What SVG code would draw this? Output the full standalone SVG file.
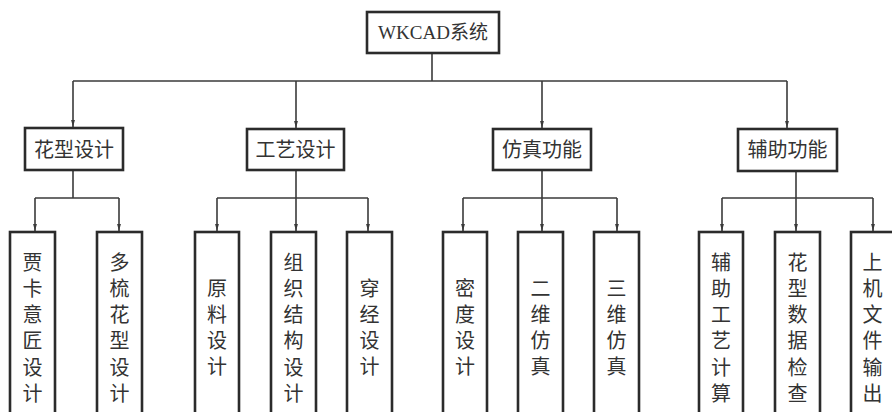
<svg xmlns="http://www.w3.org/2000/svg" width="892" height="412" viewBox="0 0 892 412">
<style>
.box{fill:#fff;stroke:#2b2b2b;stroke-width:2.6}
.ln{fill:none;stroke:#3a3a3a;stroke-width:1.6}
.t{font-family:"Noto Sans CJK SC","Noto Sans",sans-serif;font-size:20px;fill:#333;text-anchor:middle}
.top{font-family:"Liberation Serif","Noto Sans CJK SC",serif;font-size:19px;fill:#333;text-anchor:middle}
</style>
<defs>
<marker id="ar" markerUnits="userSpaceOnUse" markerWidth="7" markerHeight="12" refX="11" refY="3" orient="auto" viewBox="0 0 11 6">
<path d="M0,0 L11,3 L0,6 Z" fill="#3a3a3a"/>
</marker>
</defs>
<rect width="892" height="412" fill="#fff"/>
<g id="connectors">
<line class="ln" x1="432" y1="53" x2="432" y2="81"/>
<line class="ln" x1="73" y1="81" x2="787" y2="81"/>
<line class="ln" x1="73" y1="81" x2="73" y2="127" marker-end="url(#ar)"/>
<line class="ln" x1="296" y1="81" x2="296" y2="128" marker-end="url(#ar)"/>
<line class="ln" x1="542" y1="81" x2="542" y2="128" marker-end="url(#ar)"/>
<line class="ln" x1="787" y1="81" x2="787" y2="128" marker-end="url(#ar)"/>
<line class="ln" x1="73" y1="170" x2="73" y2="198"/>
<line class="ln" x1="35" y1="198" x2="119" y2="198"/>
<line class="ln" x1="35" y1="198" x2="35" y2="231" marker-end="url(#ar)"/>
<line class="ln" x1="119" y1="198" x2="119" y2="231" marker-end="url(#ar)"/>
<line class="ln" x1="296" y1="170" x2="296" y2="198"/>
<line class="ln" x1="217" y1="198" x2="368" y2="198"/>
<line class="ln" x1="217" y1="198" x2="217" y2="231" marker-end="url(#ar)"/>
<line class="ln" x1="296" y1="198" x2="296" y2="231" marker-end="url(#ar)"/>
<line class="ln" x1="368" y1="198" x2="368" y2="231" marker-end="url(#ar)"/>
<line class="ln" x1="542" y1="170" x2="542" y2="198"/>
<line class="ln" x1="463" y1="198" x2="617" y2="198"/>
<line class="ln" x1="463" y1="198" x2="463" y2="231" marker-end="url(#ar)"/>
<line class="ln" x1="542" y1="198" x2="542" y2="231" marker-end="url(#ar)"/>
<line class="ln" x1="617" y1="198" x2="617" y2="231" marker-end="url(#ar)"/>
<line class="ln" x1="796" y1="171" x2="796" y2="198"/>
<line class="ln" x1="722" y1="198" x2="873" y2="198"/>
<line class="ln" x1="722" y1="198" x2="722" y2="231" marker-end="url(#ar)"/>
<line class="ln" x1="796" y1="198" x2="796" y2="231" marker-end="url(#ar)"/>
<line class="ln" x1="873" y1="198" x2="873" y2="231" marker-end="url(#ar)"/>
</g>
<g id="root"><rect class="box" x="367" y="12" width="132" height="41"/><text class="top" x="433" y="39">WKCAD系统</text></g>
<g id="n-huaxing"><rect class="box" x="25" y="128" width="98" height="42"/><text class="t" x="74" y="157">花型设计</text></g>
<g id="n-gongyi"><rect class="box" x="247" y="129" width="97" height="41"/><text class="t" x="295.5" y="157">工艺设计</text></g>
<g id="n-fangzhen"><rect class="box" x="493" y="129" width="98" height="41"/><text class="t" x="542" y="157">仿真功能</text></g>
<g id="n-fuzhu"><rect class="box" x="738" y="129" width="99" height="42"/><text class="t" x="787.5" y="157">辅助功能</text></g>
<g id="n-jiaka"><rect class="box" x="10" y="232" width="45" height="195"/><text class="t"><tspan x="32.5" y="269.5">贾</tspan><tspan x="32.5" dy="26.3">卡</tspan><tspan x="32.5" dy="26.3">意</tspan><tspan x="32.5" dy="26.3">匠</tspan><tspan x="32.5" dy="26.3">设</tspan><tspan x="32.5" dy="26.3">计</tspan></text></g>
<g id="n-duoshu"><rect class="box" x="97" y="232" width="45" height="195"/><text class="t"><tspan x="119.5" y="269.5">多</tspan><tspan x="119.5" dy="26.3">梳</tspan><tspan x="119.5" dy="26.3">花</tspan><tspan x="119.5" dy="26.3">型</tspan><tspan x="119.5" dy="26.3">设</tspan><tspan x="119.5" dy="26.3">计</tspan></text></g>
<g id="n-yuanliao"><rect class="box" x="195" y="232" width="44" height="195"/><text class="t"><tspan x="217" y="295.5">原</tspan><tspan x="217" dy="26.3">料</tspan><tspan x="217" dy="26.3">设</tspan><tspan x="217" dy="26.3">计</tspan></text></g>
<g id="n-zuzhi"><rect class="box" x="271" y="232" width="45" height="195"/><text class="t"><tspan x="293.5" y="269.5">组</tspan><tspan x="293.5" dy="26.3">织</tspan><tspan x="293.5" dy="26.3">结</tspan><tspan x="293.5" dy="26.3">构</tspan><tspan x="293.5" dy="26.3">设</tspan><tspan x="293.5" dy="26.3">计</tspan></text></g>
<g id="n-chuanjing"><rect class="box" x="347" y="232" width="45" height="195"/><text class="t"><tspan x="369.5" y="295.5">穿</tspan><tspan x="369.5" dy="26.3">经</tspan><tspan x="369.5" dy="26.3">设</tspan><tspan x="369.5" dy="26.3">计</tspan></text></g>
<g id="n-midu"><rect class="box" x="443" y="232" width="44" height="195"/><text class="t"><tspan x="465" y="295.5">密</tspan><tspan x="465" dy="26.3">度</tspan><tspan x="465" dy="26.3">设</tspan><tspan x="465" dy="26.3">计</tspan></text></g>
<g id="n-erwei"><rect class="box" x="518" y="232" width="45" height="195"/><text class="t"><tspan x="540.5" y="295.5">二</tspan><tspan x="540.5" dy="26.3">维</tspan><tspan x="540.5" dy="26.3">仿</tspan><tspan x="540.5" dy="26.3">真</tspan></text></g>
<g id="n-sanwei"><rect class="box" x="594" y="232" width="45" height="195"/><text class="t"><tspan x="616.5" y="295.5">三</tspan><tspan x="616.5" dy="26.3">维</tspan><tspan x="616.5" dy="26.3">仿</tspan><tspan x="616.5" dy="26.3">真</tspan></text></g>
<g id="n-gongyijisuan"><rect class="box" x="699" y="232" width="44" height="195"/><text class="t"><tspan x="721" y="269.5">辅</tspan><tspan x="721" dy="26.3">助</tspan><tspan x="721" dy="26.3">工</tspan><tspan x="721" dy="26.3">艺</tspan><tspan x="721" dy="26.3">计</tspan><tspan x="721" dy="26.3">算</tspan></text></g>
<g id="n-shujujiancha"><rect class="box" x="775" y="232" width="45" height="195"/><text class="t"><tspan x="797.5" y="269.5">花</tspan><tspan x="797.5" dy="26.3">型</tspan><tspan x="797.5" dy="26.3">数</tspan><tspan x="797.5" dy="26.3">据</tspan><tspan x="797.5" dy="26.3">检</tspan><tspan x="797.5" dy="26.3">查</tspan></text></g>
<g id="n-shangji"><rect class="box" x="851" y="232" width="43" height="195"/><text class="t"><tspan x="872.5" y="269.5">上</tspan><tspan x="872.5" dy="26.3">机</tspan><tspan x="872.5" dy="26.3">文</tspan><tspan x="872.5" dy="26.3">件</tspan><tspan x="872.5" dy="26.3">输</tspan><tspan x="872.5" dy="26.3">出</tspan></text></g>
</svg>
